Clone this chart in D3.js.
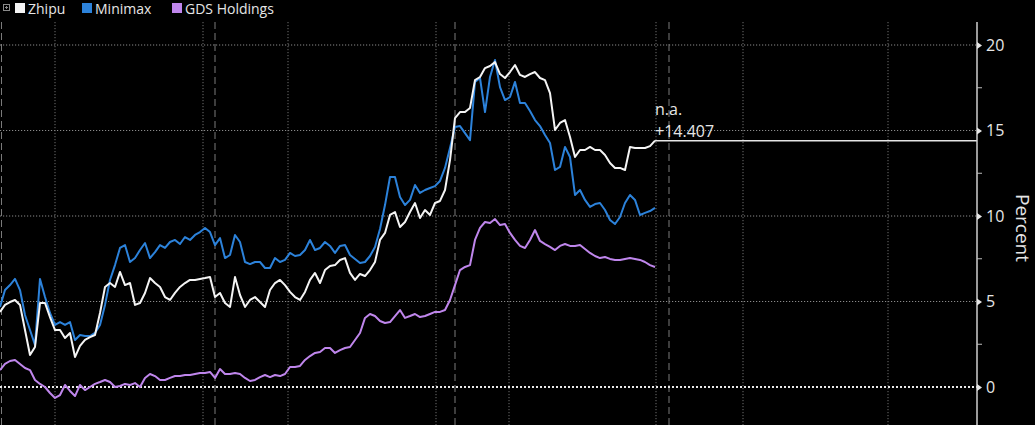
<!DOCTYPE html>
<html>
<head>
<meta charset="utf-8">
<script src="https://cdn.jsdelivr.net/npm/d3@7"></script>
<style>
  html, body { margin: 0; padding: 0; background: #000; }
  svg { display: block; }
  text { font-family: "Open Sans", "Noto Sans", sans-serif; }
</style>
</head>
<body>
<svg id="chart" width="1035" height="425"></svg>
<script>
// ---------- data (one value per sampling step) ----------
const seriesNames = ["Zhipu", "Minimax", "GDS Holdings"];
const zhipu = [4.39,4.80,4.97,5.09,4.80,3.33,1.87,2.34,4.91,4.91,4.09,3.33,3.33,2.87,3.16,1.75,2.40,2.75,2.92,3.04,
4.33,5.85,6.08,5.85,6.73,5.96,6.08,4.80,4.91,5.50,6.37,6.08,5.85,5.26,5.09,5.50,5.85,6.08,6.26,6.26,
6.32,6.37,6.43,5.26,5.50,4.91,4.68,6.43,5.38,4.68,5.09,5.26,4.97,4.68,5.67,6.08,6.26,5.96,5.56,5.26,
5.09,5.56,6.26,6.67,6.08,6.84,7.08,7.13,7.43,7.54,6.67,6.26,6.61,6.49,6.84,7.31,8.60,9.01,10.06,10.23,
9.36,9.65,10.23,10.76,9.88,10.35,10.06,10.76,10.88,11.52,13.27,15.73,16.08,16.08,16.32,17.95,18.13,18.65,18.77,19.0,
18.3,18.07,18.42,18.83,18.25,18.13,18.30,18.42,18.07,17.95,17.19,15.03,15.44,15.61,14.62,13.45,13.86,13.86,14.04,13.86,
13.86,13.57,13.10,12.81,12.81,12.69,14.04,13.98,13.98,13.98,14.09,14.407];
const minimax = [4.68,5.67,5.96,6.32,5.67,4.21,3.33,2.46,6.32,5.26,4.33,3.63,3.80,3.63,3.80,2.75,3.04,2.98,2.98,3.16,
3.63,4.80,6.26,7.13,8.13,8.30,7.31,7.54,8.01,8.42,7.54,7.89,8.30,8.13,8.48,8.60,8.36,8.77,8.60,8.89,
9.06,9.30,9.06,8.30,8.71,7.54,7.72,8.89,8.48,7.31,7.19,7.31,7.31,6.96,6.96,7.54,7.31,7.43,7.84,7.66,
7.72,8.01,8.60,8.01,8.13,8.48,8.25,7.84,8.25,8.30,7.72,7.49,7.25,7.31,7.66,8.19,9.24,10.64,12.28,12.28,
11.11,10.64,10.94,11.81,11.35,11.52,11.64,11.75,12.05,12.81,13.98,15.20,15.26,14.85,14.44,17.84,18.07,16.08,18.13,19.12,
17.54,16.78,16.96,17.84,16.61,16.61,16.14,15.61,15.26,14.74,14.27,12.69,12.87,14.04,13.45,11.23,11.52,10.94,10.53,10.70,
10.76,10.35,9.77,9.53,9.94,10.76,11.23,10.94,10.06,10.18,10.29,10.47];
const gds = [0.99,1.35,1.52,1.58,1.35,1.11,0.99,0.41,0.18,0.0,-0.35,-0.64,-0.47,0.12,-0.23,-0.53,0.12,-0.18,0.0,0.18,
0.29,0.41,0.29,0.0,0.06,0.18,0.12,0.23,0.0,0.53,0.76,0.64,0.41,0.41,0.53,0.64,0.64,0.70,0.70,0.76,
0.82,0.82,0.88,0.53,1.05,0.76,0.76,0.82,0.76,0.53,0.35,0.41,0.58,0.70,0.58,0.70,0.64,0.76,1.17,1.17,
1.23,1.58,1.81,1.99,2.05,2.28,2.28,1.99,2.16,2.28,2.34,2.75,3.16,4.04,4.27,4.15,3.86,3.74,3.80,4.15,
4.50,4.04,4.15,4.27,4.09,4.15,4.27,4.39,4.39,4.50,5.09,5.96,6.84,7.02,7.13,8.60,9.30,9.65,9.59,9.82,
9.47,9.53,9.01,8.60,8.25,8.13,8.60,9.18,8.54,8.36,8.19,8.01,8.25,8.36,8.25,8.25,8.30,8.07,7.84,7.66,
7.54,7.60,7.49,7.43,7.43,7.49,7.54,7.49,7.43,7.31,7.13,7.02];
const yTicks = [0, 5, 10, 15, 20];
const yMinorTicks = [2.5, 7.5, 12.5, 17.5];
const majorGrid = [0.3, 43, 91, 133.8];          // sampling-step positions of dashed separators
const minorGrid = [11, 40.6, 57.6, 87.2, 101.8, 131.2, 148.6, 177.6];
const lastLabel = ["n.a.", "+14.407"];
const axisTitle = "Percent";
const colors = ["#f4f4f4", "#2c82da", "#bf86ec"];

// ---------- layout ----------
const W = 1035, H = 425;
const plotTop = 22, plotBottom = 425, axisX = 977;
const svg = d3.select("#chart");
svg.append("rect").attr("width", W).attr("height", H).attr("fill", "#000");

const x = d3.scaleLinear().domain([0, 195.4]).range([0, axisX]);
const y = d3.scaleLinear().domain([0, 20]).range([387, 45]);

// horizontal grid
svg.append("g").selectAll("line").data(yTicks.filter(d => d !== 0)).join("line")
  .attr("x1", 0).attr("x2", axisX).attr("y1", d => y(d)).attr("y2", d => y(d))
  .attr("stroke", "#8a8a8a").attr("stroke-width", 1).attr("stroke-dasharray", "1.2,1.8");

// vertical grid
svg.append("g").selectAll("line").data(minorGrid).join("line")
  .attr("x1", d => x(d)).attr("x2", d => x(d)).attr("y1", plotTop).attr("y2", plotBottom)
  .attr("stroke", "#6e6e6e").attr("stroke-width", 1).attr("stroke-dasharray", "1.2,1.8");
svg.append("g").selectAll("line").data(majorGrid).join("line")
  .attr("x1", d => x(d)).attr("x2", d => x(d)).attr("y1", plotTop).attr("y2", plotBottom)
  .attr("stroke", "#7a7a7a").attr("stroke-width", 1).attr("stroke-dasharray", "7,4");

// zero line
svg.append("line").attr("x1", 0).attr("x2", axisX).attr("y1", y(0)).attr("y2", y(0))
  .attr("stroke", "#e8e8e8").attr("stroke-width", 2).attr("stroke-dasharray", "2,2");

// series
const line = d3.line().x((d, i) => x(i)).y(d => y(d));
const data = [zhipu, minimax, gds];
[2, 1, 0].forEach(k => {
  svg.append("path").datum(data[k]).attr("d", line)
    .attr("fill", "none").attr("stroke", colors[k]).attr("stroke-width", 2)
    .attr("stroke-linejoin", "round");
});

// last value line to axis
const lastIdx = zhipu.length - 1;
const lastVal = zhipu[lastIdx];
svg.append("line").attr("x1", x(lastIdx)).attr("x2", axisX)
  .attr("y1", y(lastVal)).attr("y2", y(lastVal))
  .attr("stroke", "#e6e6e6").attr("stroke-width", 1.5);
svg.append("text").attr("x", x(lastIdx)).attr("y", y(lastVal) - 26)
  .attr("fill", "#e6e6e6").attr("font-size", 16).text(lastLabel[0]);
svg.append("text").attr("x", x(lastIdx)).attr("y", y(lastVal) - 4)
  .attr("fill", "#e6e6e6").attr("font-size", 16).text(lastLabel[1]);

// right axis
svg.append("line").attr("x1", axisX).attr("x2", axisX).attr("y1", plotTop).attr("y2", plotBottom)
  .attr("stroke", "#cfcfcf").attr("stroke-width", 1.5);
const yAxis = d3.axisRight(y).tickValues(yTicks).tickSize(0).tickPadding(9).tickFormat(d3.format("d"));
const ag = svg.append("g").attr("transform", `translate(${axisX},0)`).call(yAxis);
ag.select(".domain").remove();
ag.selectAll("text").attr("fill", "#e6e6e6").attr("font-size", 16)
  .attr("font-family", "'Open Sans', sans-serif");
ag.selectAll(".tick").append("path").attr("d", "M0,-3.5L5,0L0,3.5Z").attr("fill", "#e6e6e6");
svg.append("g").selectAll("line").data(yMinorTicks).join("line")
  .attr("x1", axisX).attr("x2", axisX + 5).attr("y1", d => y(d)).attr("y2", d => y(d))
  .attr("stroke", "#bdbdbd").attr("stroke-width", 1);
svg.append("text").attr("transform", `translate(1016,228) rotate(90)`)
  .attr("text-anchor", "middle").attr("fill", "#e6e6e6").attr("font-size", 19).text(axisTitle);

// legend
const lg = svg.append("g");
lg.append("rect").attr("x", 3.5).attr("y", 4.5).attr("width", 6).attr("height", 6)
  .attr("fill", "none").attr("stroke", "#8a8a8a").attr("stroke-width", 1);
lg.append("path").attr("d", "M5,7.5H8M6.5,6V9").attr("stroke", "#8a8a8a").attr("stroke-width", 1);
const legendX = [15, 82, 172];
seriesNames.forEach((n, i) => {
  lg.append("rect").attr("x", legendX[i]).attr("y", 3).attr("width", 10).attr("height", 10)
    .attr("fill", colors[i]);
  lg.append("text").attr("x", legendX[i] + 13).attr("y", 13.5).attr("fill", "#e6e6e6")
    .attr("font-size", 14).text(n);
});
</script>
</body>
</html>
